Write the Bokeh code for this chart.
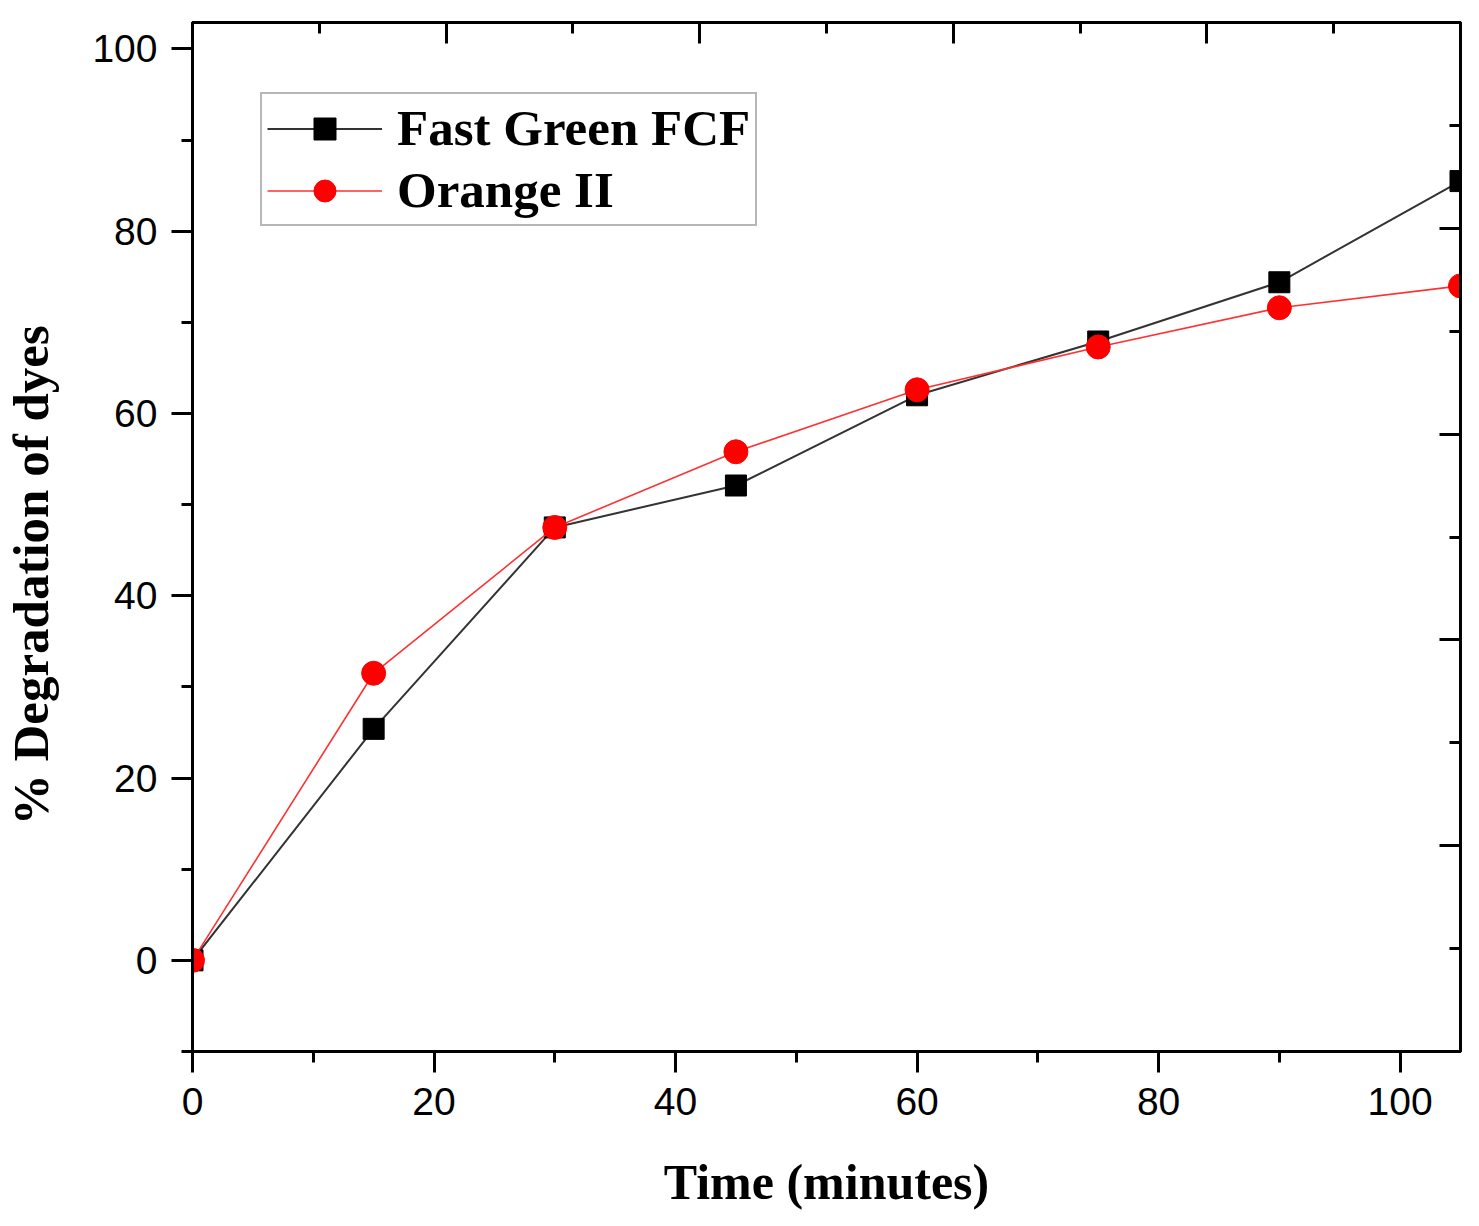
from bokeh.models import LinearAxis, Range1d, SingleIntervalTicker, Legend
from bokeh.plotting import figure
from bokeh.embed import file_html
from bokeh.resources import INLINE

# time in minutes
time_min = [0, 15, 30, 45, 60, 75, 90, 105]
# % degradation
fast_green = [0, 25.4, 47.5, 52.1, 62.0, 67.9, 74.4, 85.5]
orange_ii = [0, 31.5, 47.5, 55.8, 62.6, 67.3, 71.6, 74.0]

TICK_FONT = "Liberation Sans"
LABEL_FONT = "Liberation Serif"

p = figure(frame_width=1268, frame_height=1029, output_backend="svg", toolbar_location=None,
           x_range=Range1d(0, 105), y_range=Range1d(-10, 102.9),
           min_border_left=182, min_border_top=22, min_border_right=13, min_border_bottom=150)
p.grid.visible = False
p.outline_line_color = "black"
p.outline_line_width = 3
p.background_fill_color = "white"
p.border_fill_color = "white"

p.extra_x_ranges = {"top": Range1d(0, 100)}
p.extra_y_ranges = {"right": Range1d(0, 100)}


def style_axis(ax, outward=True):
    ax.axis_line_color = "black"
    ax.axis_line_width = 3
    ax.major_tick_line_color = "black"
    ax.major_tick_line_width = 3
    ax.minor_tick_line_color = "black"
    ax.minor_tick_line_width = 3
    if outward:
        ax.major_tick_out, ax.major_tick_in = 21, 0
        ax.minor_tick_out, ax.minor_tick_in = 11, 0
    else:
        ax.major_tick_out, ax.major_tick_in = 0, 21
        ax.minor_tick_out, ax.minor_tick_in = 0, 11


for ax in (p.xaxis[0], p.yaxis[0]):
    style_axis(ax)
    ax.ticker = SingleIntervalTicker(interval=20, num_minor_ticks=2)
    ax.major_label_text_font = TICK_FONT
    ax.major_label_text_font_size = "39px"
    ax.major_label_text_color = "black"
    ax.axis_label_text_font = LABEL_FONT
    ax.axis_label_text_font_style = "bold"
    ax.axis_label_text_color = "black"

p.xaxis.axis_label = "Time (minutes)"
p.xaxis.axis_label_text_font_size = "50px"
p.xaxis.major_label_standoff = 15
p.xaxis.axis_label_standoff = 36

# trailing no-break spaces nudge the rotated title down a little, as in the original
p.yaxis.axis_label = "% Degradation of dyes" + "\u00a0" * 6
p.yaxis.axis_label_text_font_size = "51px"
p.yaxis.major_label_standoff = 14
p.yaxis.axis_label_standoff = 30

top_axis = LinearAxis(x_range_name="top", ticker=SingleIntervalTicker(interval=20, num_minor_ticks=2))
right_axis = LinearAxis(y_range_name="right", ticker=SingleIntervalTicker(interval=20, num_minor_ticks=2))
for ax in (top_axis, right_axis):
    style_axis(ax, outward=False)
    ax.major_label_text_color = None
    ax.major_label_text_font_size = "1px"
    ax.major_label_standoff = 0
p.add_layout(top_axis, "above")
p.add_layout(right_axis, "right")

fg_line = p.line(time_min, fast_green, line_color="#333333", line_width=2)
fg_pts = p.scatter(time_min, fast_green, marker="square", size=21, fill_color="black", line_color="black")
or_line = p.line(time_min, orange_ii, line_color="#ff3030", line_width=1.6)
or_pts = p.scatter(time_min, orange_ii, marker="circle", size=24, fill_color="red", line_color="red")

legend = Legend(items=[("Fast Green FCF", [fg_line, fg_pts]), ("Orange II", [or_line, or_pts])],
                location=(68, 825))
legend.label_text_font = LABEL_FONT
legend.label_text_font_style = "bold"
legend.label_text_font_size = "51px"
legend.label_text_color = "black"
legend.glyph_width = 115
legend.glyph_height = 55
legend.label_height = 55
legend.label_standoff = 15
legend.spacing = 4
legend.padding = 5
legend.margin = 0
legend.border_line_color = "#707070"
legend.border_line_width = 2
legend.background_fill_color = "white"
p.add_layout(legend, "center")

open("out.html", "w").write(file_html(p, INLINE))
